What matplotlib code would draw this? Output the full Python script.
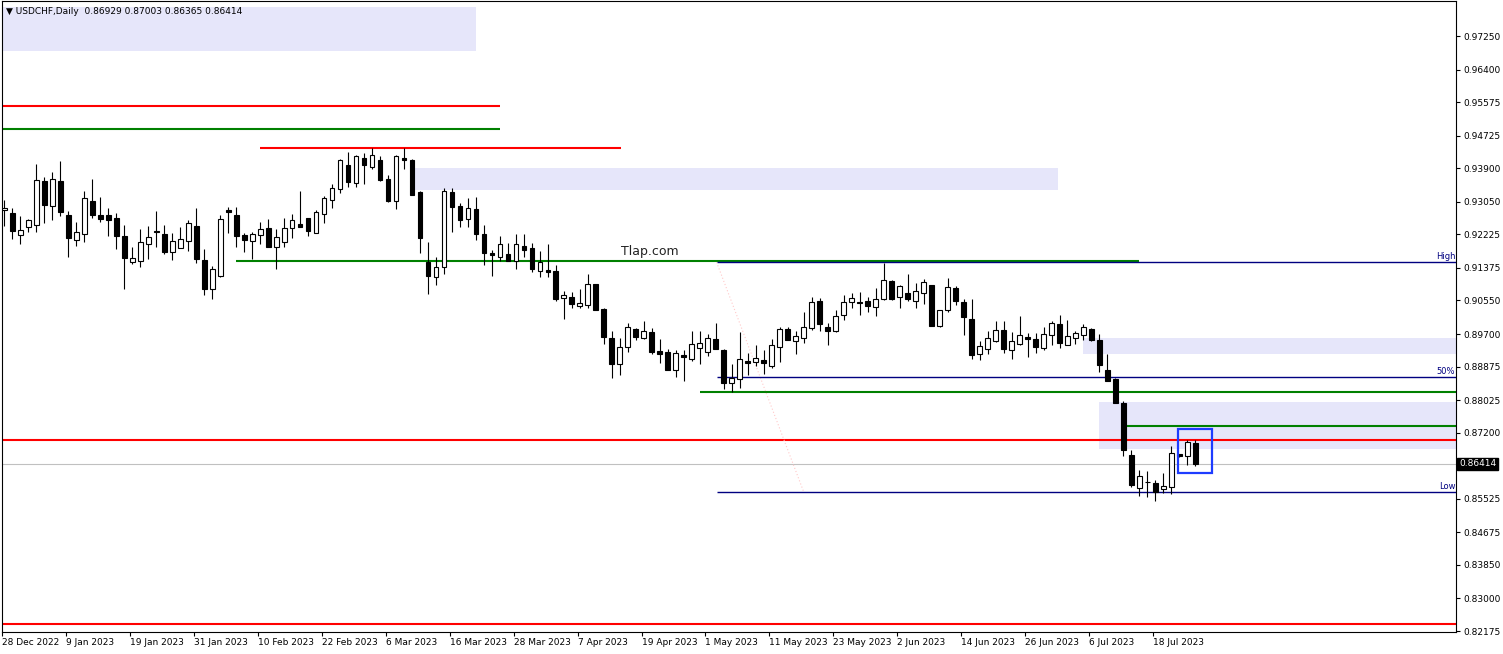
import matplotlib
matplotlib.use("Agg")
import matplotlib.pyplot as plt
import matplotlib.transforms as mtransforms
from matplotlib.patches import Rectangle

# daily USDCHF candles, 28 Dec 2022 .. 25 Jul 2023
opens = [
    .9283, .9277, .9222, .9242, .9247, .9358, .9295, .9358, .9272, .9207,
    .9223, .9307, .9272, .9272, .9264, .9218, .9153, .9154, .9197, .9232,
    .9223, .9177, .9187, .9205, .9243, .9157, .9085, .9118, .9284, .9271,
    .9220, .9205, .9220, .9238, .9191, .9202, .9238, .9249, .9263, .9227,
    .9274, .9309, .9337, .9398, .9352, .9416, .9392, .9411, .9362, .9306,
    .9416, .9411, .9330, .9152, .9115, .9139, .9329, .9294, .9261, .9286,
    .9223, .9174, .9166, .9172, .9156, .9193, .9187, .9130, .9132, .9130,
    .9061, .9064, .9042, .9043, .9097, .9033, .8959, .8895, .8938, .8982,
    .8959, .8975, .8927, .8924, .8878, .8916, .8906, .8934, .8925, .8957,
    .8929, .8846, .8857, .8901, .8898, .8904, .8889, .8938, .8982, .8953,
    .8961, .8985, .9054, .8987, .8978, .9017, .9051, .9052, .9054, .9039,
    .9058, .9104, .9063, .9074, .9054, .9073, .9095, .8990, .9030, .9086,
    .9051, .9007, .8919, .8933, .8952, .8980, .8929, .8944, .8962, .8957,
    .8935, .8967, .8995, .8942, .8961, .8967, .8983, .8955, .8879, .8856,
    .8796, .8664, .8580, .8596, .8593, .8578, .8583, .8666, .8660, .86929,
]
highs = [
    .9310, .9289, .9269, .9261, .9401, .9367, .9380, .9408, .9282, .9254,
    .9332, .9363, .9317, .9289, .9277, .9246, .9190, .9236, .9244, .9282,
    .9246, .9226, .9241, .9259, .9289, .9185, .9142, .9272, .9291, .9291,
    .9225, .9229, .9253, .9261, .9236, .9263, .9274, .9332, .9263, .9283,
    .9320, .9350, .9414, .9430, .9424, .9429, .9440, .9420, .9373, .9424,
    .9440, .9413, .9332, .9203, .9164, .9339, .9339, .9301, .9315, .9317,
    .9245, .9182, .9218, .9200, .9224, .9224, .9200, .9180, .9198, .9145,
    .9079, .9076, .9083, .9122, .9097, .9035, .8978, .8959, .8997, .8986,
    .9004, .8984, .8957, .8931, .8929, .8929, .8977, .8977, .8969, .8997,
    .8932, .8894, .8974, .8921, .8943, .8929, .8958, .8989, .8989, .8977,
    .9026, .9064, .9061, .8997, .9031, .9070, .9075, .9077, .9064, .9087,
    .9151, .9107, .9095, .9122, .9100, .9109, .9095, .9031, .9111, .9092,
    .9059, .9058, .8952, .8977, .9003, .9003, .8974, .9016, .8972, .8972,
    .8987, .9004, .9018, .9005, .8978, .8995, .8985, .8971, .8919, .8859,
    .8800, .8676, .8625, .8624, .8601, .8617, .8686, .8666, .8701, .87003,
]
lows = [
    .9244, .9211, .9199, .9229, .9229, .9252, .9259, .9270, .9166, .9193,
    .9204, .9265, .9254, .9218, .9186, .9085, .9148, .9141, .9161, .9191,
    .9172, .9158, .9187, .9181, .9149, .9070, .9059, .9114, .9227, .9191,
    .9179, .9161, .9199, .9191, .9135, .9190, .9214, .9241, .9219, .9227,
    .9252, .9290, .9326, .9343, .9342, .9350, .9389, .9358, .9305, .9286,
    .9388, .9323, .9174, .9072, .9095, .9123, .9229, .9241, .9241, .9209,
    .9146, .9118, .9155, .9154, .9135, .9165, .9126, .9115, .9115, .9054,
    .9007, .9037, .9036, .9036, .9031, .8944, .8859, .8866, .8924, .8955,
    .8958, .8920, .8896, .8878, .8862, .8852, .8902, .8895, .8914, .8931,
    .8831, .8822, .8834, .8866, .8890, .8869, .8883, .8899, .8955, .8920,
    .8946, .8980, .8977, .8941, .8975, .9005, .9037, .9019, .9027, .9015,
    .9056, .9056, .9035, .9054, .9035, .9046, .8991, .8987, .9026, .9044,
    .8967, .8907, .8903, .8919, .8951, .8921, .8907, .8942, .8912, .8922,
    .8930, .8943, .8935, .8941, .8945, .8955, .8952, .8873, .8852, .8794,
    .8661, .8582, .8559, .8556, .8547, .8568, .8565, .8659, .8639, .86365,
]
closes = [
    .9288, .9232, .9234, .9258, .9360, .9298, .9363, .9280, .9214, .9228,
    .9314, .9272, .9262, .9260, .9219, .9163, .9163, .9203, .9217, .9228,
    .9179, .9205, .9210, .9250, .9159, .9085, .9135, .9261, .9280, .9219,
    .9209, .9223, .9237, .9191, .9217, .9238, .9258, .9242, .9232, .9279,
    .9314, .9339, .9410, .9356, .9420, .9397, .9423, .9361, .9307, .9420,
    .9412, .9323, .9212, .9118, .9139, .9332, .9292, .9260, .9289, .9224,
    .9174, .9169, .9197, .9156, .9197, .9184, .9135, .9152, .9126, .9059,
    .9070, .9045, .9048, .9097, .9032, .8963, .8895, .8938, .8987, .8963,
    .8978, .8925, .8920, .8878, .8921, .8913, .8944, .8947, .8959, .8933,
    .8846, .8859, .8906, .8897, .8909, .8897, .8941, .8983, .8955, .8965,
    .8987, .9051, .8995, .8978, .9015, .9051, .9061, .9049, .9042, .9059,
    .9107, .9058, .9092, .9059, .9079, .9101, .8991, .9030, .9089, .9053,
    .9012, .8917, .8939, .8959, .8980, .8932, .8952, .8967, .8958, .8938,
    .8971, .8997, .8948, .8965, .8972, .8987, .8954, .8892, .8852, .8794,
    .8676, .8588, .8611, .8594, .8569, .8586, .8669, .8660, .8696, .86414,
]

date_labels = ["28 Dec 2022", "9 Jan 2023", "19 Jan 2023", "31 Jan 2023",
               "10 Feb 2023", "22 Feb 2023", "6 Mar 2023", "16 Mar 2023",
               "28 Mar 2023", "7 Apr 2023", "19 Apr 2023", "1 May 2023",
               "11 May 2023", "23 May 2023", "2 Jun 2023", "14 Jun 2023",
               "26 Jun 2023", "6 Jul 2023", "18 Jul 2023"]
price_ticks = [0.97250, 0.96400, 0.95575, 0.94725, 0.93900, 0.93050, 0.92225,
               0.91375, 0.90550, 0.89700, 0.88875, 0.88025, 0.87200, 0.85525,
               0.84675, 0.83850, 0.83000, 0.82175]

last_price = 0.86414
fib_high, fib_low = 0.9152, 0.8570

n = len(closes)
xs = list(range(n))

fig = plt.figure(figsize=(15.03, 6.54), dpi=100)
ax = fig.add_axes([2 / 1503, 22 / 654, 1454 / 1503, 631 / 654])
XMAX = 181.6
ax.set_xlim(-0.16, XMAX)
ax.set_ylim(0.82150, 0.98137)

# --- drawn objects (zones, levels) ---
lav = "#E6E6FA"
for x0, x1, y0, y1 in [(-1, 59, 0.96872, 0.97985),
                       (50.8, 131.8, 0.93348, 0.93906),
                       (135, XMAX + 1, 0.89193, 0.89598),
                       (137, XMAX + 1, 0.86786, 0.87977)]:
    ax.add_patch(Rectangle((x0, y0), x1 - x0, y1 - y0, facecolor=lav,
                           edgecolor="none", zorder=0))

red, green, navy = "#FF0000", "#008000", "#000080"
ax.hlines(0.95476, -1, 62, color=red, lw=1.5, zorder=1)
ax.hlines(0.94894, -1, 62, color=green, lw=1.5, zorder=1)
ax.hlines(0.94413, 32, 77.1, color=red, lw=1.5, zorder=1)
ax.hlines(0.91540, 29, 142, color=green, lw=1.5, zorder=1)
ax.hlines(0.88230, 87, XMAX + 1, color=green, lw=1.5, zorder=1)
ax.hlines(0.87369, 140.2, XMAX + 1, color=green, lw=1.5, zorder=1)
ax.hlines(0.87014, -1, XMAX + 1, color=red, lw=1.5, zorder=1)
ax.hlines(0.82353, -1, XMAX + 1, color=red, lw=1.5, zorder=1)
ax.hlines(last_price, -1, XMAX + 1, color="#C0C0C0", lw=0.8, zorder=1)

# fibo retracement
fib_mid = (fib_high + fib_low) / 2
for lvl, name in [(fib_high, "High"), (fib_mid, "50%"), (fib_low, "Low")]:
    ax.hlines(lvl, 89.1, XMAX + 1, color=navy, lw=1.0, zorder=1.5)
    ax.text(XMAX - 0.1, lvl + 0.0003, name, color=navy, fontsize=6,
            ha="right", va="bottom")
ax.plot([89.1, 100], [fib_high, fib_low], color="#FFC8C8", lw=0.8,
        ls=(0, (1, 2)), zorder=1)

ax.text(80.8, 0.91803, "Tlap.com", fontsize=9, color="#222222",
        ha="center", va="center")

# --- candles ---
body_lo = [min(o, c) for o, c in zip(opens, closes)]
body_h = [abs(c - o) for o, c in zip(opens, closes)]
faces = ["white" if c > o else "black" for o, c in zip(opens, closes)]
ax.vlines(xs, lows, highs, color="black", lw=0.8, zorder=2)
ax.bar(xs, body_h, bottom=body_lo, width=0.6, color=faces,
       edgecolor="black", linewidth=0.8, zorder=3)

ax.add_patch(Rectangle((146.8, 0.86178), 4.3, 0.01115, facecolor="none",
                       edgecolor="#1E3CFF", lw=1.6, zorder=4))

# --- axes ---
for s in ax.spines.values():
    s.set_color("black")
    s.set_linewidth(0.8)
ax.yaxis.tick_right()
ax.set_yticks(price_ticks)
ax.set_yticklabels([f"{v:.5f}" for v in price_ticks])
ax.tick_params(axis="y", direction="out", length=3, width=0.8, pad=2,
               labelsize=6.5)
ax.set_xticks([8 * i - 0.29 for i in range(len(date_labels))])
ax.set_xticklabels(date_labels)
for lab in ax.get_xticklabels():
    lab.set_horizontalalignment("left")
ax.tick_params(axis="x", direction="out", length=3, width=0.8, pad=1,
               labelsize=6.5)

tr = mtransforms.blended_transform_factory(ax.transAxes, ax.transData)
ax.text(1.002, last_price, f"{last_price:.5f}", transform=tr, color="white",
        fontsize=6.5, ha="left", va="center",
        bbox=dict(facecolor="black", edgecolor="black", pad=1.2))

ax.text(0.0025, 0.984, "\u25BC USDCHF,Daily  0.86929 0.87003 0.86365 0.86414",
        transform=ax.transAxes, fontsize=6.5, ha="left", va="center")

fig.savefig("out.png", dpi=100)
